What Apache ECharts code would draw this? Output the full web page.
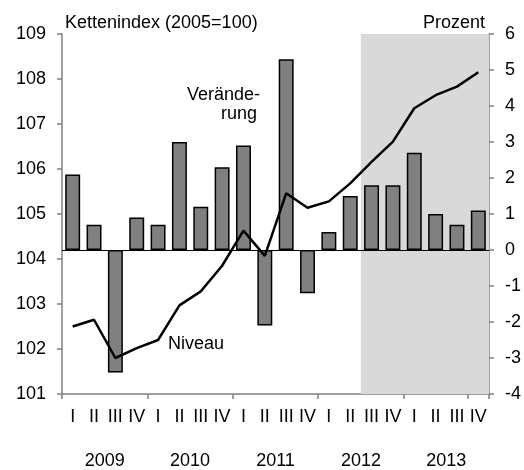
<!DOCTYPE html>
<html><head><meta charset="utf-8">
<script src="https://cdn.jsdelivr.net/npm/echarts@6/dist/echarts.min.js"></script>
<style>html,body{margin:0;padding:0;background:#fff}#c{width:524px;height:470px}</style>
</head><body><div id="c"></div>
<script>
const quarters = ['I','II','III','IV','I','II','III','IV','I','II','III','IV','I','II','III','IV','I','II','III','IV'];
const years = ['2009','2010','2011','2012','2013'];
const veraenderung = [2.1, 0.7, -3.4, 0.9, 0.7, 3.0, 1.2, 2.3, 2.9, -2.1, 5.3, -1.2, 0.5, 1.5, 1.8, 1.8, 2.7, 1.0, 0.7, 1.1];
const niveau = [102.5, 102.65, 101.8, 102.02, 102.2, 102.97, 103.28, 103.85, 104.63, 104.07, 105.46, 105.14, 105.28, 105.68, 106.16, 106.61, 107.35, 107.64, 107.83, 108.15];
const leftTicks = {min: 101, max: 109, interval: 1};
const rightTicks = {min: -4, max: 6, interval: 1};
const shadeRange = [14, 20];

const font = 'Liberation Sans, Arial, sans-serif';
const fs = 18;
const axisGray = '#808080';
const chart = echarts.init(document.getElementById('c'), null, {renderer: 'canvas'});
chart.setOption({
  animation: false,
  textStyle: {fontFamily: font, color: '#000'},
  grid: {left: 62, right: 34, top: 34, bottom: 72, containLabel: false},
  xAxis: [
    {type: 'category', data: quarters, position: 'bottom', boundaryGap: true,
     axisLine: {show: true, onZero: false, lineStyle: {color: axisGray, width: 1.5}},
     axisTick: {show: true, interval: 3, length: 5, lineStyle: {color: axisGray, width: 1.5}},
     axisLabel: {interval: 0, margin: 14, fontSize: fs, color: '#000', fontFamily: font},
     splitLine: {show: false}},
    {type: 'category', data: years, position: 'bottom', boundaryGap: true,
     axisLine: {show: false}, axisTick: {show: false},
     axisLabel: {interval: 0, margin: 58, fontSize: fs, color: '#000', fontFamily: font},
     splitLine: {show: false}},
    {type: 'value', min: 0, max: 20, show: false, position: 'bottom'}
  ],
  yAxis: [
    {type: 'value', position: 'left', min: leftTicks.min, max: leftTicks.max, interval: leftTicks.interval,
     axisLine: {show: true, lineStyle: {color: axisGray, width: 1.5}},
     axisTick: {show: true, length: 5, lineStyle: {color: axisGray, width: 1.5}},
     axisLabel: {margin: 16, fontSize: fs, color: '#000', fontFamily: font},
     splitLine: {show: false}},
    {type: 'value', position: 'right', min: rightTicks.min, max: rightTicks.max, interval: rightTicks.interval,
     axisLine: {show: true, onZero: false, lineStyle: {color: axisGray, width: 1.5}},
     axisTick: {show: true, length: 5, lineStyle: {color: axisGray, width: 1.5}},
     axisLabel: {margin: 16, fontSize: fs, color: '#000', fontFamily: font},
     splitLine: {show: false}}
  ],
  series: [
    {type: 'line', xAxisIndex: 2, yAxisIndex: 0, data: [[shadeRange[0], 105]], showSymbol: false, symbol: 'none',
     lineStyle: {width: 0}, z: 0, silent: true,
     markArea: {silent: true, itemStyle: {color: '#d9d9d9'},
       data: [[{xAxis: shadeRange[0]}, {xAxis: shadeRange[1]}]]}},
    {type: 'bar', xAxisIndex: 0, yAxisIndex: 1, data: veraenderung, barWidth: '70%', z: 2,
     itemStyle: {color: '#808080', borderColor: '#000', borderWidth: 1.5},
     markLine: {silent: true, symbol: 'none', label: {show: false},
       lineStyle: {color: '#000', width: 1.2, type: 'solid'}, data: [{yAxis: 0}]}},
    {type: 'line', xAxisIndex: 0, yAxisIndex: 0, data: niveau, symbol: 'none', z: 3,
     lineStyle: {color: '#000', width: 2.5}}
  ],
  graphic: [
    {type: 'text', left: 65, top: 14, style: {text: 'Kettenindex (2005=100)', font: fs + 'px ' + font, fill: '#000'}},
    {type: 'text', right: 39, top: 14, style: {text: 'Prozent', font: fs + 'px ' + font, fill: '#000'}},
    {type: 'text', right: 264, top: 86, style: {text: 'Verände-', font: fs + 'px ' + font, fill: '#000'}},
    {type: 'text', right: 267, top: 105, style: {text: 'rung', font: fs + 'px ' + font, fill: '#000'}},
    {type: 'text', left: 168, top: 335, style: {text: 'Niveau', font: fs + 'px ' + font, fill: '#000'}}
  ]
});
</script></body></html>
